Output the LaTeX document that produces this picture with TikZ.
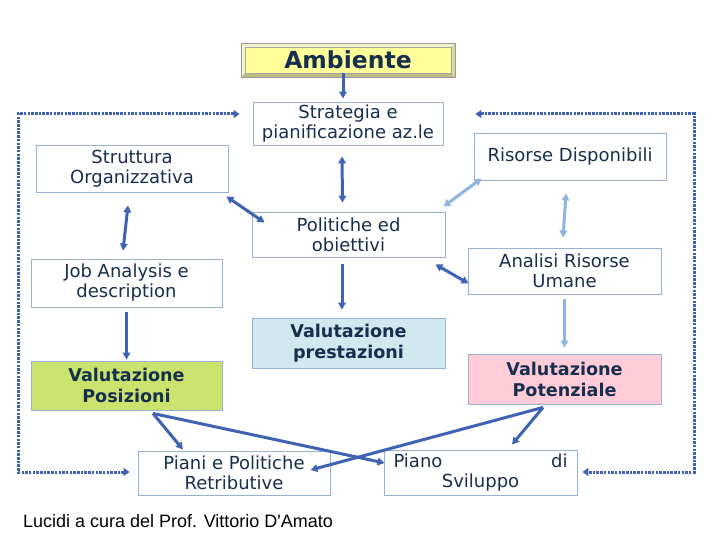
\documentclass[tikz,border=0pt]{standalone}
\usepackage{fontspec}
\setmainfont{DejaVu Sans}
\newfontfamily\footfont{Liberation Sans}
\usetikzlibrary{arrows.meta,calc}
\definecolor{navy}{HTML}{172F4F}
\definecolor{bord}{HTML}{95B3D7}
\definecolor{dblue}{HTML}{3F62B4}
\definecolor{lblue}{HTML}{8EB4E3}
\definecolor{yel}{HTML}{FFFF99}
\definecolor{grn}{HTML}{CBE36D}
\definecolor{pnk}{HTML}{FFCCD8}
\definecolor{lbl}{HTML}{D2E8EF}
\definecolor{bevlight}{HTML}{F4F4CC}
\definecolor{bevmid}{HTML}{D8D89C}
\definecolor{bevdark}{HTML}{BDBD82}
\begin{document}
\begin{tikzpicture}[x=1pt,y=-1pt,
  box/.style={draw=bord, line width=0.9pt, fill=white, align=center, text=navy,
    font=\fontsize{18}{20}\selectfont, inner sep=0pt},
  bbox/.style={box, font=\bfseries\fontsize{17.6}{21}\selectfont},
  tip/.tip={Triangle[length=7pt,width=7.5pt]},
  arr/.style={draw=dblue, line width=3pt, -tip},
  darr/.style={draw=dblue, line width=3pt, tip-tip},
  larr/.style={draw=lblue, line width=3pt, -tip},
  ldarr/.style={draw=lblue, line width=3pt, tip-tip},
  dotarr/.style={draw=dblue, line width=3pt, dash pattern=on 2.5pt off 1.2pt,
    {Triangle[length=6pt,width=8pt]}-{Triangle[length=6pt,width=8pt]}}]
\fill[white] (0,0) rectangle (720,540);
\useasboundingbox (0,0) rectangle (720,540);

% Ambiente bevelled box
\fill[bevlight] (241,43) -- (455,43) -- (451,47) -- (245,47) -- cycle;
\fill[bevlight] (241,43) -- (245,47) -- (245,73) -- (241,77) -- cycle;
\fill[bevdark] (241,77) -- (455,77) -- (451,73) -- (245,73) -- cycle;
\fill[bevmid] (455,43) -- (455,77) -- (451,73) -- (451,47) -- cycle;
\draw[gray!80, line width=0.8pt] (241,43) rectangle (455,77);
\node[fill=yel, draw=gray!70, line width=0.6pt, minimum width=206pt, minimum height=26pt,
  inner sep=0pt, text=navy, font=\bfseries\fontsize{23.5}{25}\selectfont] (amb) at (348,60) {Ambiente};

% boxes
\node[box, minimum width=190pt, minimum height=43pt] (str) at (348,123.5) {Strategia e\\pianificazione az.le};
\node[box, minimum width=192pt, minimum height=47pt] (org) at (132,168.5) {Struttura\\Organizzativa};
\node[box, minimum width=192pt, minimum height=47pt] (ris) at (570,156.5) {Risorse Disponibili};
\node[box, minimum width=193pt, minimum height=45pt] (pol) at (348.5,234.5) {Politiche ed\\obiettivi};
\node[box, minimum width=191pt, minimum height=48pt] (job) at (126.5,283) {Job Analysis e\\description};
\node[box, minimum width=193pt, minimum height=46pt] (aru) at (564.5,271) {Analisi Risorse\\Umane};
\node[bbox, fill=lbl, minimum width=193pt, minimum height=50pt] (vpr) at (348.5,343) {Valutazione\\prestazioni};
\node[bbox, fill=grn, minimum width=191pt, minimum height=49pt] (vpo) at (126.5,385.5) {Valutazione\\Posizioni};
\node[bbox, fill=pnk, minimum width=193pt, minimum height=50pt] (vpt) at (564.5,379) {Valutazione\\Potenziale};
\node[box, minimum width=192pt, minimum height=44pt] (pia) at (234,473) {Piani e Politiche\\Retributive};
\node[box, minimum width=193pt, minimum height=45pt] (svi) at (480.5,472.5) {\makebox[174pt]{Piano\hfill di}\\Sviluppo};
\node[font=\footfont\fontsize{18}{20}\selectfont, text=black, inner sep=0pt] (foot) at (178,521) {Lucidi a cura del Prof. Vittorio D'Amato};

% connectors
\draw[arr] ([shift={(-5,0)}]amb.south) -- ([shift={(-5,-3)}]str.north);
\draw[darr] ([shift={(-6,11)}]str.south) -- ([shift={(-6,-9)}]pol.north);
\draw[darr] ([shift={(-2,4)}]org.south east) -- ([shift={(13,11)}]pol.north west);
\draw[ldarr] ([shift={(8,-2)}]ris.south west) -- ([shift={(-2,-5)}]pol.north east);
\draw[darr] ([shift={(-10,7)}]pol.south east) -- ([shift={(1,-11)}]aru.south west);
\draw[arr] ([shift={(-6.5,7)}]pol.south) -- ([shift={(-6.5,-8)}]vpr.north);
\draw[darr] ([shift={(-4,13)}]org.south) -- ([shift={(-3.5,-8)}]job.north);
\draw[ldarr] ([shift={(-4,13)}]ris.south) -- ([shift={(-1.5,-10)}]aru.north);
\draw[arr] ([shift={(0,5)}]job.south) -- ([shift={(0,-1)}]vpo.north);
\draw[larr] ([shift={(0,5)}]aru.south) -- ([shift={(0,-6)}]vpt.north);
\draw[arr] ([shift={(26.5,3)}]vpo.south) -- ([shift={(-51,-1)}]pia.north);
\draw[arr] ([shift={(26.5,3)}]vpo.south) -- ([shift={(1,-9.5)}]svi.west);
\draw[arr] ([shift={(-21.5,3)}]vpt.south) -- ([shift={(-20,-3)}]pia.east);
\draw[arr] ([shift={(-21.5,3)}]vpt.south) -- ([shift={(31.5,-5)}]svi.north);

% dotted feedback loops
\coordinate (lt) at (18,114);
\coordinate (lb) at (18,472);
\coordinate (rt) at (694,114);
\coordinate (rb) at (694,472);
\draw[dotarr] ([shift={(-8,-1)}]pia.west) -- (lb) -- (lt) -- ([shift={(-13,-9.5)}]str.west);
\draw[dotarr] ([shift={(32,-9.5)}]str.east) -- (rt) -- (rb) -- ([shift={(5,-0.5)}]svi.east);
\end{tikzpicture}
\end{document}
